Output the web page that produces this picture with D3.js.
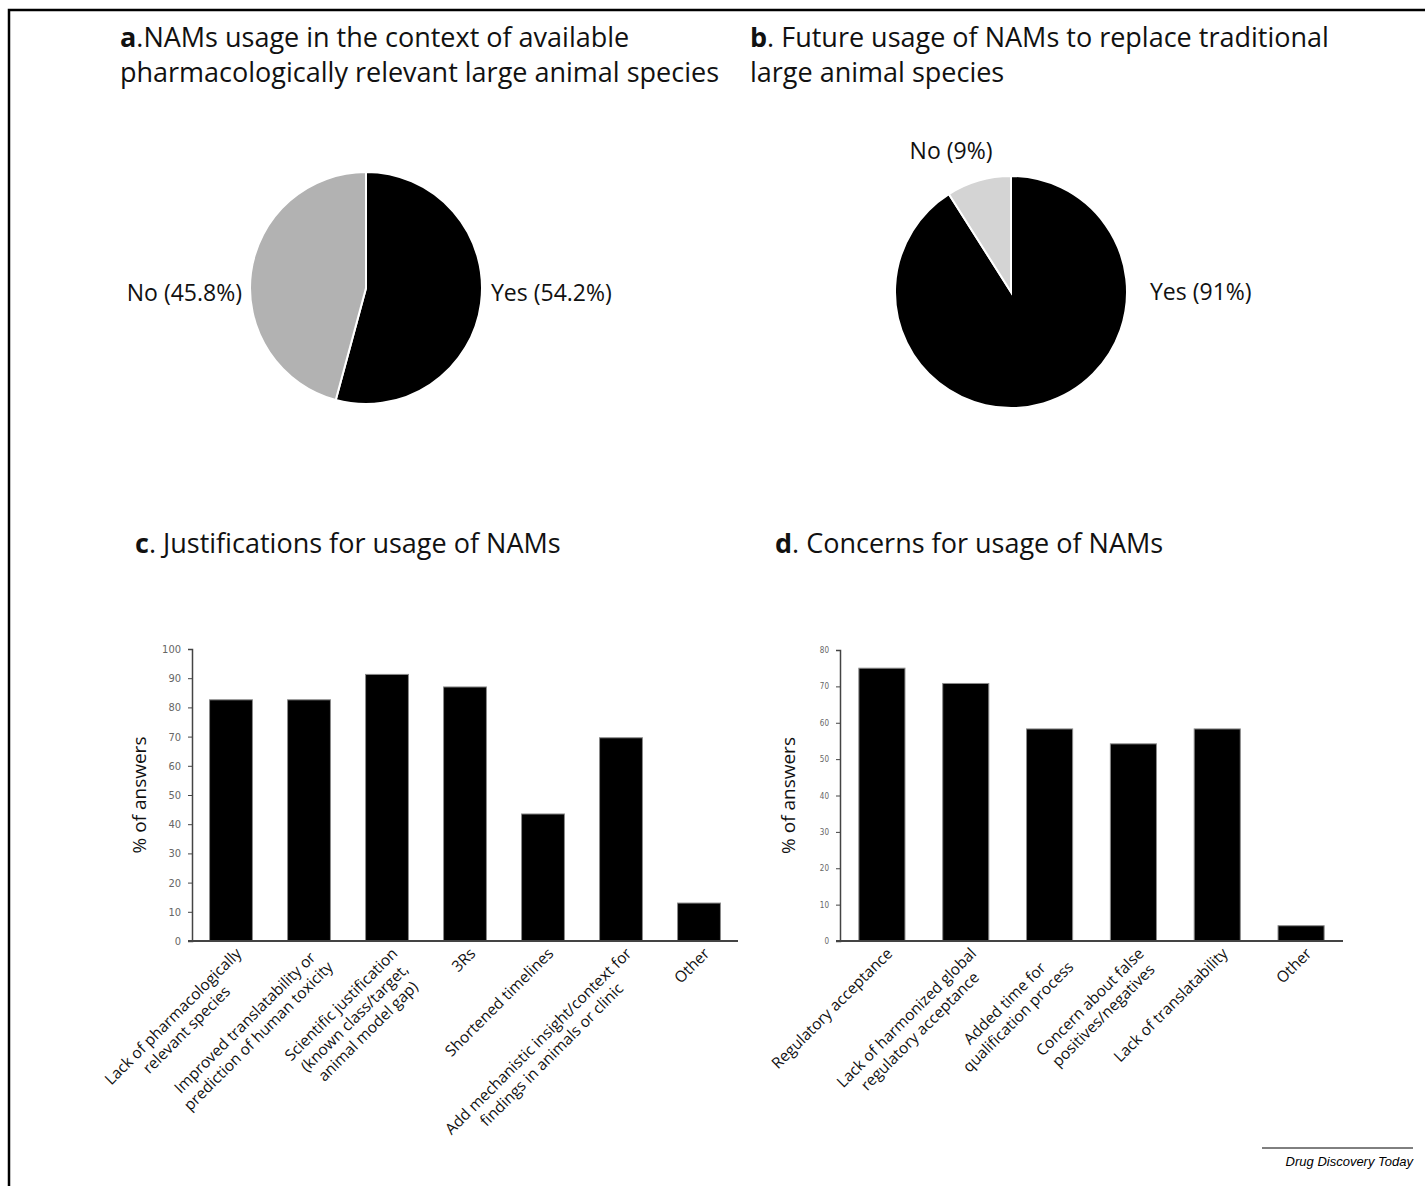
<!DOCTYPE html>
<html lang="en">
<head>
<meta charset="UTF-8">
<title>NAMs survey</title>
<script src="https://d3js.org/d3.v7.min.js"></script>
<style>
    body { margin: 0; background: #fff; }
    svg { display: block; }
    .title { font-family: "Open Sans", sans-serif; font-size: 27px; fill: #111; }
    .pielab { font-family: "Open Sans", sans-serif; font-size: 23px; fill: #111; }
    .xlab { font-family: "Open Sans", sans-serif; font-size: 15.5px; fill: #111; }
    .ylab { font-family: "Open Sans", sans-serif; font-size: 19px; fill: #111; }
    .tick text { font-family: "Liberation Sans Narrow", "DejaVu Sans Condensed", sans-serif; fill: #666; }
    .domain, .tick line { stroke: #444; }
</style>
</head>
<body>
<script>
    // pie a / pie b
    const pieALabels = ["Yes (54.2%)", "No (45.8%)"];
    const pieAValues = [54.2, 45.8];
    const pieBLabels = ["Yes (91%)", "No (9%)"];
    const pieBValues = [91, 9];

    // bar c
    const justCats = [
        "Lack of pharmacologically\nrelevant species",
        "Improved translatability  or\nprediction of human toxicity",
        "Scientific justification\n(known class/target,\nanimal model gap)",
        "3Rs",
        "Shortened timelines",
        "Add mechanistic insight/context for\nfindings in animals or clinic",
        "Other"
    ];
    const justValues = [82.6, 82.6, 91.3, 87.0, 43.5, 69.6, 13.0];
    const justTicks = [0, 10, 20, 30, 40, 50, 60, 70, 80, 90, 100];

    // bar d
    const concernCats = [
        "Regulatory acceptance",
        "Lack of harmonized global\nregulatory acceptance",
        "Added time for\nqualification process",
        "Concern about false\npositives/negatives",
        "Lack of translatability",
        "Other"
    ];
    const concernValues = [75.0, 70.8, 58.3, 54.2, 58.3, 4.2];
    const concernTicks = [0, 10, 20, 30, 40, 50, 60, 70, 80];

    const width = 1425, height = 1186;
    const svg = d3.select("body").append("svg").attr("width", width).attr("height", height);

    // frame
    svg.append("rect").attr("x", 9).attr("y", 10).attr("width", width + 20).attr("height", height + 20)
        .attr("fill", "none").attr("stroke", "#000").attr("stroke-width", 2.5);

    function title(x, y, letter, lines) {
        const t = svg.append("text").attr("class", "title").attr("x", x).attr("y", y);
        lines.forEach((l, i) => {
            const ts = t.append("tspan").attr("x", x).attr("dy", i == 0 ? 0 : 35);
            if (i == 0) {
                ts.append("tspan").attr("font-weight", "bold").text(letter);
            }
            ts.append("tspan").text(l);
        });
    }
    title(120, 47, "a", [".NAMs usage in the context of available", "pharmacologically relevant large animal species"]);
    title(750, 47, "b", [". Future usage of NAMs to replace traditional", "large animal species"]);
    title(135, 553, "c", [". Justifications for usage of NAMs"]);
    title(775, 553, "d", [". Concerns for usage of NAMs"]);

    // pies
    function drawPie(cx, cy, r, values, colors, labels, labelPos) {
        const pie = d3.pie().sort(null)(values);
        const arc = d3.arc().innerRadius(0).outerRadius(r);
        const g = svg.append("g").attr("transform", `translate(${cx},${cy})`);
        g.selectAll("path").data(pie).enter().append("path")
            .attr("d", arc)
            .attr("fill", (d, i) => colors[i])
            .attr("stroke", "#fff").attr("stroke-width", 2);
        g.selectAll("text").data(labels).enter().append("text")
            .attr("class", "pielab")
            .attr("x", (d, i) => labelPos[i][0])
            .attr("y", (d, i) => labelPos[i][1])
            .attr("text-anchor", (d, i) => labelPos[i][2])
            .text(d => d);
    }
    drawPie(366, 288, 116, pieAValues, ["#000", "#b2b2b2"], pieALabels, [[125, 13, "start"], [-124, 13, "end"]]);
    drawPie(1011, 292, 116, pieBValues, ["#000", "#d4d4d4"], pieBLabels, [[139, 8, "start"], [-60, -133, "middle"]]);

    // bar charts
    function drawBars(x0, x1, y0, y1, cats, values, ticks, maxV, tickSize, ylabX) {
        const x = d3.scaleBand().domain(cats).range([x0, x1]).paddingInner(0.45).paddingOuter(0.225);
        const y = d3.scaleLinear().domain([0, maxV]).range([y0, y1]);
        const g = svg.append("g");

        g.selectAll("rect").data(values).enter().append("rect")
            .attr("x", (d, i) => x(cats[i]))
            .attr("y", d => y(d))
            .attr("width", x.bandwidth())
            .attr("height", d => y0 - y(d))
            .attr("fill", "#000")
            .attr("stroke", "#8a8a8a").attr("stroke-width", 1);

        const ya = g.append("g").attr("transform", `translate(${x0},0)`)
            .call(d3.axisLeft(y).tickValues(ticks).tickSize(4).tickSizeOuter(4).tickPadding(7));
        ya.selectAll(".tick text").attr("font-size", tickSize);
        ya.select(".domain").attr("stroke-width", 1.5);

        g.append("line").attr("x1", x0 - 4).attr("x2", x1).attr("y1", y0).attr("y2", y0)
            .attr("stroke", "#444").attr("stroke-width", 1.8);

        g.append("text").attr("class", "ylab")
            .attr("transform", `translate(${ylabX},${(y0 + y1) / 2}) rotate(-90)`)
            .attr("text-anchor", "middle").text("% of answers");

        // rotated multi-line category labels
        const lh = 19;
        cats.forEach(c => {
            const lines = c.split("\n");
            const lg = g.append("g")
                .attr("transform", `translate(${x(c) + x.bandwidth() / 2 + 3},${y0 + 5}) rotate(-45)`);
            const texts = lines.map((l, i) => lg.append("text").attr("class", "xlab")
                .attr("y", 12 + i * lh).attr("text-anchor", "middle").text(l));
            const w = d3.max(texts, t => t.node().getComputedTextLength());
            texts.forEach(t => t.attr("x", -w / 2));
        });
    }
    drawBars(192, 738, 941, 649, justCats, justValues, justTicks, 100, 11, 146);
    drawBars(840, 1343, 941, 650, concernCats, concernValues, concernTicks, 80, 8, 795);

    // journal footer
    svg.append("line").attr("x1", 1262).attr("x2", 1413).attr("y1", 1148).attr("y2", 1148)
        .attr("stroke", "#000").attr("stroke-width", 1);
    svg.append("text").attr("x", 1413).attr("y", 1166).attr("text-anchor", "end")
        .attr("font-family", "Liberation Sans, Arial, sans-serif").attr("font-style", "italic")
        .attr("font-size", 13).text("Drug Discovery Today");
</script>
</body>
</html>
